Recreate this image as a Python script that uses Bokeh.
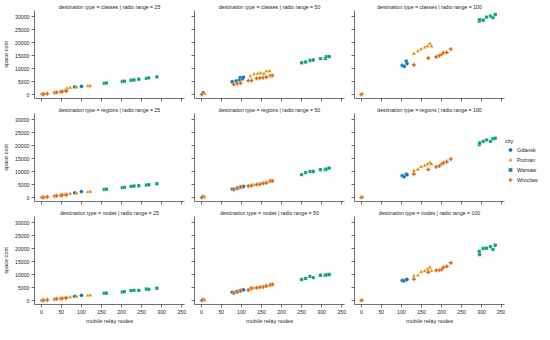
from bokeh.plotting import figure
from bokeh.layouts import row, column
from bokeh.models import FixedTicker, Range1d, Legend, LegendItem
from bokeh.embed import file_html
from bokeh.resources import INLINE

CITIES = ["Gdansk", "Poznan", "Warsaw", "Wroclaw"]
DESTS = ["classes", "regions", "nodes"]
RADIOS = [25, 50, 100]
X_TICKS = [0, 50, 100, 150, 200, 250, 300, 350]
Y_TICKS = [0, 5000, 10000, 15000, 20000, 25000, 30000]
COLORS = ["#0173b2", "#de8f05", "#029e73", "#d55e00"]
MARKERS = ["circle", "triangle", "square", "plus"]

# mobile relay nodes per radio range and city
X25_GDANSK = [83, 100]
X25_POZNAN = [58, 64, 72, 88, 116, 122]
X25_WARSAW = [157, 162, 202, 207, 224, 231, 243, 262, 268, 288]
X25_WROCLAW = [2, 6, 15, 33, 38, 48, 52, 62]

X50_GDANSK = [5, 77, 87, 95, 97, 103, 105]
X50_POZNAN = [8, 122, 131, 141, 148, 156, 162, 170]
X50_WARSAW = [250, 260, 271, 279, 297, 309, 312, 319]
X50_WROCLAW = [1, 81, 90, 98, 117, 125, 138, 146, 154, 162, 172, 177]

X100_GDANSK = [102, 107, 112, 114]
X100_POZNAN = [3, 131, 141, 149, 158, 165, 171, 175]
X100_WARSAW = [294, 295, 304, 312, 322, 328, 334]
X100_WROCLAW = [0, 131, 167, 187, 195, 201, 205, 213, 223]

# space cost per destination type, radio range and city
Y_CLASSES_25_GDANSK = [2900, 3100]
Y_CLASSES_25_POZNAN = [1500, 2300, 2600, 2800, 3300, 3300]
Y_CLASSES_25_WARSAW = [4300, 4400, 5000, 5100, 5500, 5600, 5900, 6200, 6400, 6800]
Y_CLASSES_25_WROCLAW = [100, 150, 300, 700, 800, 1000, 1100, 1300]

Y_REGIONS_25_GDANSK = [1800, 2300]
Y_REGIONS_25_POZNAN = [1000, 1200, 1400, 1600, 2100, 2200]
Y_REGIONS_25_WARSAW = [3100, 3200, 3800, 3900, 4300, 4400, 4500, 4800, 4900, 5300]
Y_REGIONS_25_WROCLAW = [50, 100, 250, 550, 650, 800, 900, 1000]

Y_NODES_25_GDANSK = [1600, 2000]
Y_NODES_25_POZNAN = [900, 1100, 1300, 1500, 1900, 2000]
Y_NODES_25_WARSAW = [2800, 2800, 3300, 3400, 3800, 3900, 3900, 4400, 4300, 4700]
Y_NODES_25_WROCLAW = [40, 90, 220, 500, 600, 750, 850, 950]

Y_CLASSES_50_GDANSK = [700, 4900, 5200, 5600, 6500, 6000, 6700]
Y_CLASSES_50_POZNAN = [300, 7000, 7800, 8000, 8300, 8000, 8900, 9000]
Y_CLASSES_50_WARSAW = [12200, 12500, 13100, 13300, 13800, 13800, 14600, 14600]
Y_CLASSES_50_WROCLAW = [0, 3900, 4200, 4400, 5300, 5400, 6200, 6300, 6500, 6700, 7300, 7300]

Y_REGIONS_50_GDANSK = [300, 3240, 3500, 3800, 4000, 4100, 4300]
Y_REGIONS_50_POZNAN = [200, 4500, 4800, 5100, 5300, 5600, 5800, 6100]
Y_REGIONS_50_WARSAW = [8800, 9600, 10000, 10000, 10700, 10700, 11000, 11300]
Y_REGIONS_50_WROCLAW = [0, 3000, 3600, 4100, 4400, 4600, 5000, 5100, 5400, 5600, 6400, 6400]

Y_NODES_50_GDANSK = [300, 3150, 3400, 3700, 3750, 4000, 4100]
Y_NODES_50_POZNAN = [200, 4300, 4700, 4900, 5100, 5400, 5700, 6000]
Y_NODES_50_WARSAW = [8100, 8500, 9300, 8800, 9700, 9700, 9900, 10000]
Y_NODES_50_WROCLAW = [0, 2800, 3300, 3700, 4000, 4800, 4900, 5100, 5200, 5600, 6000, 6200]

Y_CLASSES_100_GDANSK = [11200, 10800, 12800, 11900]
Y_CLASSES_100_POZNAN = [300, 15700, 16600, 17400, 18100, 18600, 19600, 18600]
Y_CLASSES_100_WARSAW = [28200, 28800, 28600, 29800, 30200, 29600, 30800]
Y_CLASSES_100_WROCLAW = [0, 11400, 14000, 14500, 15000, 15500, 16100, 16200, 17500]

Y_REGIONS_100_GDANSK = [8400, 8000, 9000, 8800]
Y_REGIONS_100_POZNAN = [200, 10200, 10800, 11800, 12200, 12800, 13400, 12800]
Y_REGIONS_100_WARSAW = [20400, 21000, 21600, 22200, 21600, 22600, 22800]
Y_REGIONS_100_WROCLAW = [0, 9000, 10800, 11800, 12200, 13000, 13300, 13800, 14800]

Y_NODES_100_GDANSK = [7700, 7600, 8000, 8100]
Y_NODES_100_POZNAN = [200, 9400, 9700, 11000, 11300, 12000, 12700, 11400]
Y_NODES_100_WARSAW = [18900, 17700, 20000, 20100, 20700, 19700, 21300]
Y_NODES_100_WROCLAW = [0, 8200, 10900, 11600, 11700, 12000, 12800, 13100, 14500]

XS = {
    25: [X25_GDANSK, X25_POZNAN, X25_WARSAW, X25_WROCLAW],
    50: [X50_GDANSK, X50_POZNAN, X50_WARSAW, X50_WROCLAW],
    100: [X100_GDANSK, X100_POZNAN, X100_WARSAW, X100_WROCLAW],
}
YS = {
    ("classes", 25): [Y_CLASSES_25_GDANSK, Y_CLASSES_25_POZNAN, Y_CLASSES_25_WARSAW, Y_CLASSES_25_WROCLAW],
    ("regions", 25): [Y_REGIONS_25_GDANSK, Y_REGIONS_25_POZNAN, Y_REGIONS_25_WARSAW, Y_REGIONS_25_WROCLAW],
    ("nodes", 25): [Y_NODES_25_GDANSK, Y_NODES_25_POZNAN, Y_NODES_25_WARSAW, Y_NODES_25_WROCLAW],
    ("classes", 50): [Y_CLASSES_50_GDANSK, Y_CLASSES_50_POZNAN, Y_CLASSES_50_WARSAW, Y_CLASSES_50_WROCLAW],
    ("regions", 50): [Y_REGIONS_50_GDANSK, Y_REGIONS_50_POZNAN, Y_REGIONS_50_WARSAW, Y_REGIONS_50_WROCLAW],
    ("nodes", 50): [Y_NODES_50_GDANSK, Y_NODES_50_POZNAN, Y_NODES_50_WARSAW, Y_NODES_50_WROCLAW],
    ("classes", 100): [Y_CLASSES_100_GDANSK, Y_CLASSES_100_POZNAN, Y_CLASSES_100_WARSAW, Y_CLASSES_100_WROCLAW],
    ("regions", 100): [Y_REGIONS_100_GDANSK, Y_REGIONS_100_POZNAN, Y_REGIONS_100_WARSAW, Y_REGIONS_100_WROCLAW],
    ("nodes", 100): [Y_NODES_100_GDANSK, Y_NODES_100_POZNAN, Y_NODES_100_WARSAW, Y_NODES_100_WROCLAW],
}

FONT = "Liberation Sans"
TEXT = "#262626"
AXC = "#333333"
SIZES = {"circle": 3.8, "triangle": 4.2, "square": 3.4, "plus": 4.2}


def style_axis(ax, ticks, show_labels):
    ax.axis_line_color = AXC
    ax.axis_line_width = 0.7
    if show_labels:
        ax.ticker = FixedTicker(ticks=ticks)
    else:
        # ticks without labels: draw them as minor ticks
        ax.ticker = FixedTicker(ticks=[], minor_ticks=ticks)
    for kind in ("major", "minor"):
        setattr(ax, f"{kind}_tick_line_color", AXC)
        setattr(ax, f"{kind}_tick_line_width", 0.7)
        setattr(ax, f"{kind}_tick_out", 3)
        setattr(ax, f"{kind}_tick_in", 0)
    ax.major_label_text_font = FONT
    ax.major_label_text_font_size = "5.2px"
    ax.major_label_text_color = TEXT
    ax.major_label_standoff = 2 if show_labels else 0
    ax.axis_label_text_font = FONT
    ax.axis_label_text_font_size = "5.6px"
    ax.axis_label_text_font_style = "normal"
    ax.axis_label_text_color = TEXT
    ax.axis_label_standoff = 3


rows = []
for i, dest in enumerate(DESTS):
    figs = []
    for j, radio in enumerate(RADIOS):
        p = figure(
            frame_width=150, frame_height=88,
            x_range=Range1d(-17, 357), y_range=Range1d(-1540, 32340),
            toolbar_location=None, output_backend="svg",
            min_border_left=27 if j == 0 else 5,
            min_border_right=1 if j == 2 else 5,
            min_border_top=10,
            min_border_bottom=18 if i == 2 else 5,
            outline_line_color=None,
        )
        p.title.text = f"destination type = {dest} | radio range = {radio}"
        p.title.align = "center"
        p.title.text_font = FONT
        p.title.text_font_size = "5.2px"
        p.title.text_font_style = "normal"
        p.title.text_color = TEXT
        p.title.standoff = 2
        p.title.offset = 0
        p.xgrid.visible = False
        p.ygrid.visible = False
        style_axis(p.xaxis[0], X_TICKS, i == 2)
        style_axis(p.yaxis[0], Y_TICKS, j == 0)
        if j == 0:
            p.yaxis.axis_label = "space cost"
        if i == 2:
            p.xaxis.axis_label = "mobile relay nodes"
            p.xaxis.axis_label_standoff = 1
        for k, city in enumerate(CITIES):
            p.scatter(XS[radio][k], YS[(dest, radio)][k], marker=MARKERS[k],
                      size=SIZES[MARKERS[k]], fill_color=COLORS[k],
                      line_color="white", line_width=0.3)
        figs.append(p)
    rows.append(row(*figs, spacing=0))

lf = figure(width=36, height=322, x_range=Range1d(0, 1), y_range=Range1d(0, 1),
            toolbar_location=None, output_backend="svg", x_axis_type=None,
            y_axis_type=None, min_border=0, outline_line_color=None)
lf.xgrid.visible = False
lf.ygrid.visible = False
items = []
for k, city in enumerate(CITIES):
    r = lf.scatter([float("nan")], [float("nan")], marker=MARKERS[k],
                   size=SIZES[MARKERS[k]],
                   fill_color=COLORS[k], line_color="white", line_width=0.3)
    items.append(LegendItem(label=city, renderers=[r]))
legend = Legend(items=items, title="city", location="left",
                title_text_font=FONT, title_text_font_size="5.6px",
                title_text_font_style="normal", title_text_color=TEXT,
                title_standoff=1,
                label_text_font=FONT, label_text_font_size="5.4px",
                label_text_color=TEXT, label_height=7, label_standoff=2,
                glyph_width=10, glyph_height=10, spacing=-3, padding=0, margin=0,
                border_line_color=None, background_fill_alpha=0)
lf.add_layout(legend)

layout = row(column(*rows, spacing=0), lf, spacing=0)
open("out.html", "w").write(file_html(layout, INLINE))
